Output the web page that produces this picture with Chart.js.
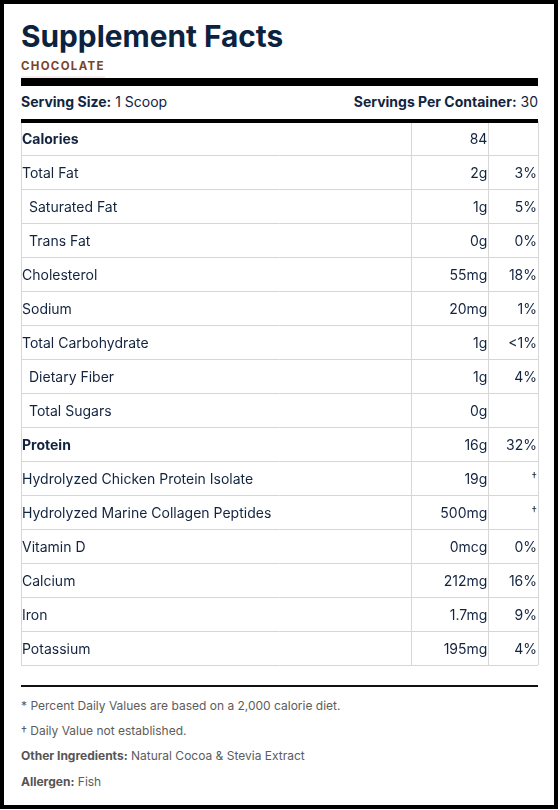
<!DOCTYPE html>
<html>
<head>
<meta charset="utf-8">
<script src="https://cdn.jsdelivr.net/npm/chart.js@4.4.1/dist/chart.umd.min.js"></script>
<style>
  html, body { margin: 0; padding: 0; background: #fff; }
  body { font-family: Inter, "Noto Sans", sans-serif; color: #13243f; }
  .card {
    position: absolute; left: 0; top: 0;
    width: 558px; height: 809px; box-sizing: border-box;
    border: 4px solid #000; background: #fff;
  }
  .abs { position: absolute; white-space: nowrap; }
  .title { left: 17px; top: 14px; font-size: 29.8px; font-weight: 700; line-height: 36px; color: #0c2340; }
  .flavor { left: 17px; top: 55px; font-size: 11.5px; font-weight: 700; line-height: 14px; letter-spacing: 1.3px; color: #7b4426; padding-bottom: 3px; border-bottom: 5px solid #f6efe9; }
  .rule { left: 17px; width: 517px; background: #000; }
  .serving { left: 17px; width: 517px; top: 89px; font-size: 14px; line-height: 17px; display: flex; justify-content: space-between; }
  .serving b { font-weight: 700; }
  #tableWrap { position: absolute; left: 17px; top: 117px; width: 518px; height: 545px; }
  .note { left: 17px; font-size: 12px; line-height: 15px; color: #5c5c5c; }
  .note b { font-weight: 700; color: #555; }
</style>
</head>
<body>
<div class="card">
  <div class="abs title">Supplement Facts</div>
  <div class="abs flavor">CHOCOLATE</div>
  <div class="abs rule" style="top:74px;height:8px;"></div>
  <div class="abs serving">
    <span><b>Serving Size:</b> 1 Scoop</span>
    <span><b>Servings Per Container:</b> 30</span>
  </div>
  <div id="tableWrap"><canvas id="factsChart" width="518" height="545"></canvas></div>
  <div class="abs rule" style="top:115px;height:4px;"></div>
  <div class="abs rule" style="top:681px;height:2px;background:#111;"></div>
  <div class="abs note" style="top:694px;">* Percent Daily Values are based on a 2,000 calorie diet.</div>
  <div class="abs note" style="top:719px;">† Daily Value not established.</div>
  <div class="abs note" style="top:744px;"><b>Other Ingredients:</b> Natural Cocoa &amp; Stevia Extract</div>
  <div class="abs note" style="top:770px;"><b>Allergen:</b> Fish</div>
</div>

<script>
const nutrients = ['Calories', 'Total Fat', 'Saturated Fat', 'Trans Fat', 'Cholesterol', 'Sodium',
    'Total Carbohydrate', 'Dietary Fiber', 'Total Sugars', 'Protein',
    'Hydrolyzed Chicken Protein Isolate', 'Hydrolyzed Marine Collagen Peptides',
    'Vitamin D', 'Calcium', 'Iron', 'Potassium'];
const amounts = ['84', '2g', '1g', '0g', '55mg', '20mg', '1g', '1g', '0g', '16g',
    '19g', '500mg', '0mcg', '212mg', '1.7mg', '195mg'];
const dailyValues = ['', '3%', '5%', '0%', '18%', '1%', '<1%', '4%', '', '32%',
    '†', '†', '0%', '16%', '9%', '4%'];
const subRows = ['Saturated Fat', 'Trans Fat', 'Dietary Fiber', 'Total Sugars'];
const boldRows = ['Calories', 'Protein'];

// column edges, in percent of the table width
const colEdges = [0, 75.5, 90.4, 100];

const cellText = {
    id: 'cellText',
    afterDraw(chart) {
        const ctx = chart.ctx;
        const x = chart.scales.x;
        const y = chart.scales.y;
        ctx.save();
        ctx.fillStyle = '#13243f';
        ctx.textBaseline = 'alphabetic';
        nutrients.forEach(function(name, i) {
            const base = y.getPixelForValue(i) + 5.5;
            ctx.font = (boldRows.includes(name) ? '700 ' : '400 ') + '14px Inter';
            ctx.textAlign = 'left';
            ctx.fillText(name, x.left + 1 + (subRows.includes(name) ? 7 : 0), base);

            ctx.font = '400 14px Inter';
            ctx.textAlign = 'right';
            ctx.fillText(amounts[i], x.getPixelForValue(colEdges[2]) - 1, base);

            const dv = dailyValues[i];
            if (dv === '†') {
                ctx.font = '400 11px Inter';
                ctx.fillText(dv, x.right - 1, base - 4);
            } else if (dv) {
                ctx.fillText(dv, x.right - 1, base);
            }
        });
        ctx.restore();
    }
};

new Chart(document.getElementById('factsChart'), {
    type: 'bar',
    data: {
        labels: nutrients,
        datasets: [{ label: 'Amount', data: [] }]
    },
    options: {
        indexAxis: 'y',
        responsive: false,
        animation: false,
        events: [],
        layout: { padding: { left: 0, top: 0, right: 1, bottom: 1 } },
        plugins: { legend: { display: false }, tooltip: { enabled: false } },
        scales: {
            x: {
                type: 'linear', min: 0, max: 100,
                afterBuildTicks: function(scale) {
                    scale.ticks = colEdges.map(function(v) { return { value: v }; });
                },
                grid: { color: '#d6d6d6', lineWidth: 1, drawTicks: false, tickLength: 0 },
                border: { display: false },
                ticks: { display: false, padding: 0 }
            },
            y: {
                type: 'category',
                offset: true,
                grid: { offset: true, color: '#d6d6d6', lineWidth: 1, drawTicks: false, tickLength: 0 },
                border: { display: false },
                ticks: { display: false, padding: 0 }
            }
        }
    },
    plugins: [cellText]
});
</script>
</body>
</html>
